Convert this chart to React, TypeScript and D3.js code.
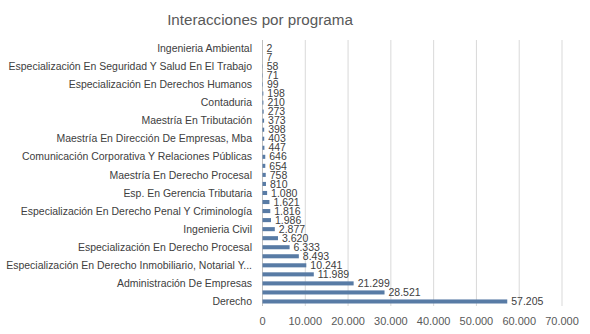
import React from "react";
import * as d3 from "d3";

const title = "Interacciones por programa";
// bottom (largest) to top
const categories = [
  "Derecho", "", "Administración De Empresas", "",
  "Especialización En Derecho Inmobiliario, Notarial Y...", "",
  "Especialización En Derecho Procesal", "", "Ingenieria Civil", "",
  "Especialización En Derecho Penal Y Criminología", "",
  "Esp. En Gerencia Tributaria", "", "Maestría En Derecho Procesal", "",
  "Comunicación Corporativa Y Relaciones Públicas", "",
  "Maestría En Dirección De Empresas, Mba", "", "Maestría En Tributación", "",
  "Contaduria", "", "Especialización En Derechos Humanos", "",
  "Especialización En Seguridad Y Salud En El Trabajo", "", "Ingenieria Ambiental",
];
const values = [
  57205, 28521, 21299, 11989, 10241, 8493, 6333, 3620, 2877, 1986, 1816, 1621,
  1080, 810, 758, 654, 646, 447, 403, 398, 373, 273, 210, 198, 99, 71, 58, 7, 2,
];
const xTicks = [0, 10000, 20000, 30000, 40000, 50000, 60000, 70000];

const fmt = (v: number) => d3.format(",")(v).replace(/,/g, ".");

export default function App() {
  const W = 590, H = 334;
  const x = d3.scaleLinear().domain([0, 70000]).range([262.5, 562]);
  const idx = values.map((_, i) => i);
  const y = d3.scaleBand<number>().domain(idx.slice().reverse()).range([43.8, 306]).paddingInner(0.55).paddingOuter(0.275);
  const font = "'Liberation Sans', Arial, sans-serif";
  return (
    <svg width={W} height={H} style={{ position: "absolute", left: 0, top: 0, background: "#fff" }} fontFamily={font}>
      <text x={260} y={25} textAnchor="middle" fontSize={15.2} fill="#595959">{title}</text>
      {xTicks.map((t) => (
        <g key={t}>
          {t > 0 && <line x1={x(t)} x2={x(t)} y1={40} y2={306} stroke="#d9d9d9" strokeWidth={1} />}
          <text x={x(t)} y={325} textAnchor="middle" fontSize={11} fill="#595959">{fmt(t)}</text>
        </g>
      ))}
      <line x1={x(0)} x2={x(0)} y1={40} y2={306} stroke="#bfbfbf" strokeWidth={1} />
      {idx.map((i) => {
        const yc = (y(i) as number) + y.bandwidth() / 2;
        return (
          <g key={i}>
            <rect x={x(0)} y={y(i)} width={x(values[i]) - x(0)} height={y.bandwidth()} fill="#587ba5" />
            <text x={x(values[i]) + 4} y={yc} dy="0.35em" fontSize={10.5} fill="#404040">{fmt(values[i])}</text>
            {categories[i] && (
              <text x={252} y={yc} dy="0.35em" textAnchor="end" fontSize={10.47} fill="#404040">{categories[i]}</text>
            )}
          </g>
        );
      })}
    </svg>
  );
}
